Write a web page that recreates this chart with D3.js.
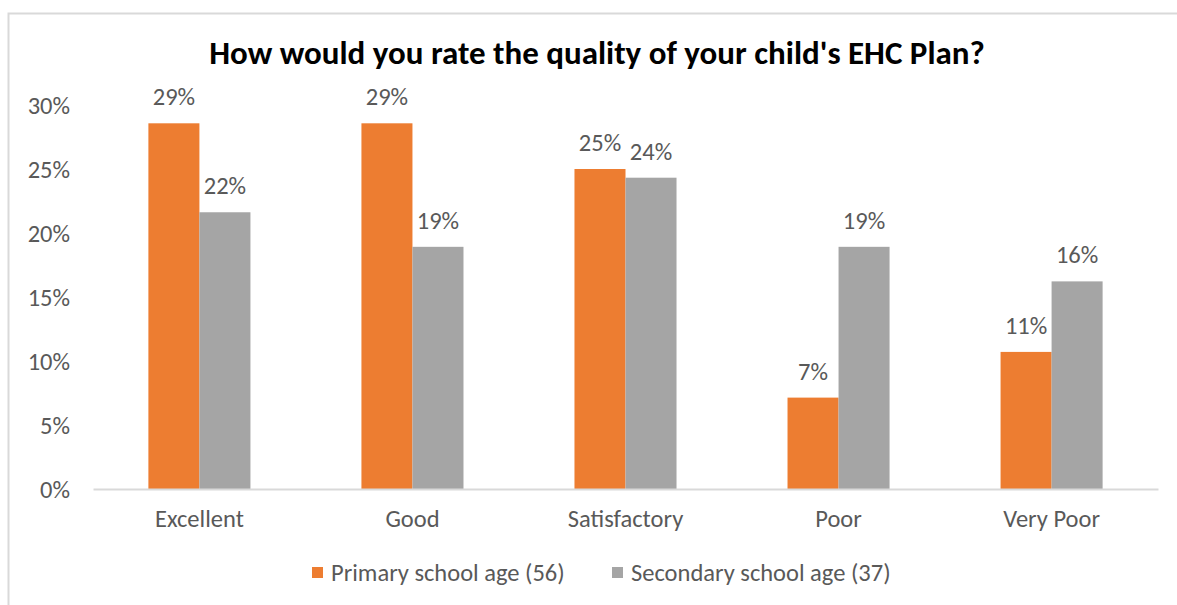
<!DOCTYPE html>
<html><head><meta charset="utf-8">
<script src="https://cdn.jsdelivr.net/npm/d3@7"></script>
<style>
html,body{margin:0;padding:0;background:#fff;}
svg{display:block;}
text{font-family:Carlito,Lato,"Open Sans",sans-serif;}
</style></head>
<body>
<svg id="c" width="1177" height="605"></svg>
<script>
const categories = ["Excellent","Good","Satisfactory","Poor","Very Poor"];
const seriesNames = ["Primary school age (56)","Secondary school age (37)"];
const primary = [0.2857,0.2857,0.25,0.0714,0.1071];
const secondary = [0.2162,0.1892,0.2432,0.1892,0.1622];
const yTicks = [0,0.05,0.10,0.15,0.20,0.25,0.30];
const colors = ["#ED7D31","#A5A5A5"];
const title = "How would you rate the quality of your child's EHC Plan?";

(function(){
const FS = 24.5;
const FF = "Carlito,Lato,'Open Sans',sans-serif";
const svg = d3.select("#c");
svg.append("rect").attr("x",8.5).attr("y",13.5).attr("width",1180).attr("height",600)
  .attr("fill","#fff").attr("stroke","#D9D9D9").attr("stroke-width",2);

const pL=93, pR=1158, pT=105, pB=489;
const x = d3.scaleBand().domain(categories).range([pL,pR]).paddingInner(0.521).paddingOuter(0.26);
const x1 = d3.scaleBand().domain([0,1]).range([0,x.bandwidth()]);
const y = d3.scaleLinear().domain([0,0.30]).range([pB,pT]);

svg.append("text").attr("x",597).attr("y",64).attr("text-anchor","middle")
  .attr("font-size",33).attr("font-weight","bold").attr("fill","#000").text(title);

const yAxis = d3.axisLeft(y).tickValues(yTicks).tickFormat(d3.format(".0%")).tickSize(0).tickPadding(0);
const gy = svg.append("g").attr("transform","translate(70,0)").call(yAxis);
gy.select(".domain").remove();
gy.selectAll("text").attr("font-size",FS).attr("fill","#595959").attr("font-family",FF).attr("dy","0.35em");

const series = [primary, secondary];
series.forEach((vals,si)=>{
  const g = svg.append("g");
  g.selectAll("rect").data(vals).join("rect")
    .attr("x",(d,i)=>x(categories[i])+x1(si))
    .attr("y",d=>y(d))
    .attr("width",x1.bandwidth())
    .attr("height",d=>pB-y(d))
    .attr("fill",colors[si]);
  g.selectAll("text").data(vals).join("text")
    .attr("x",(d,i)=>x(categories[i])+x1(si)+x1.bandwidth()/2)
    .attr("y",d=>y(d)-18)
    .attr("text-anchor","middle").attr("font-size",FS).attr("fill","#595959")
    .text(d=>d3.format(".0%")(d));
});

const xAxis = d3.axisBottom(x).tickSize(0).tickPadding(0);
const gx = svg.append("g").attr("transform",`translate(0,${pB})`).call(xAxis);
gx.select(".domain").attr("stroke","#D9D9D9").attr("stroke-width",2);
gx.selectAll("text").attr("font-size",FS).attr("fill","#595959").attr("font-family",FF).attr("y",38).attr("dy",0);

const legX = [312,612];
seriesNames.forEach((n,i)=>{
  svg.append("rect").attr("x",legX[i]).attr("y",567).attr("width",11).attr("height",11).attr("fill",colors[i]);
  svg.append("text").attr("x",legX[i]+19).attr("y",581).attr("font-size",FS).attr("fill","#595959").text(n);
});
})();
</script>
</body></html>
